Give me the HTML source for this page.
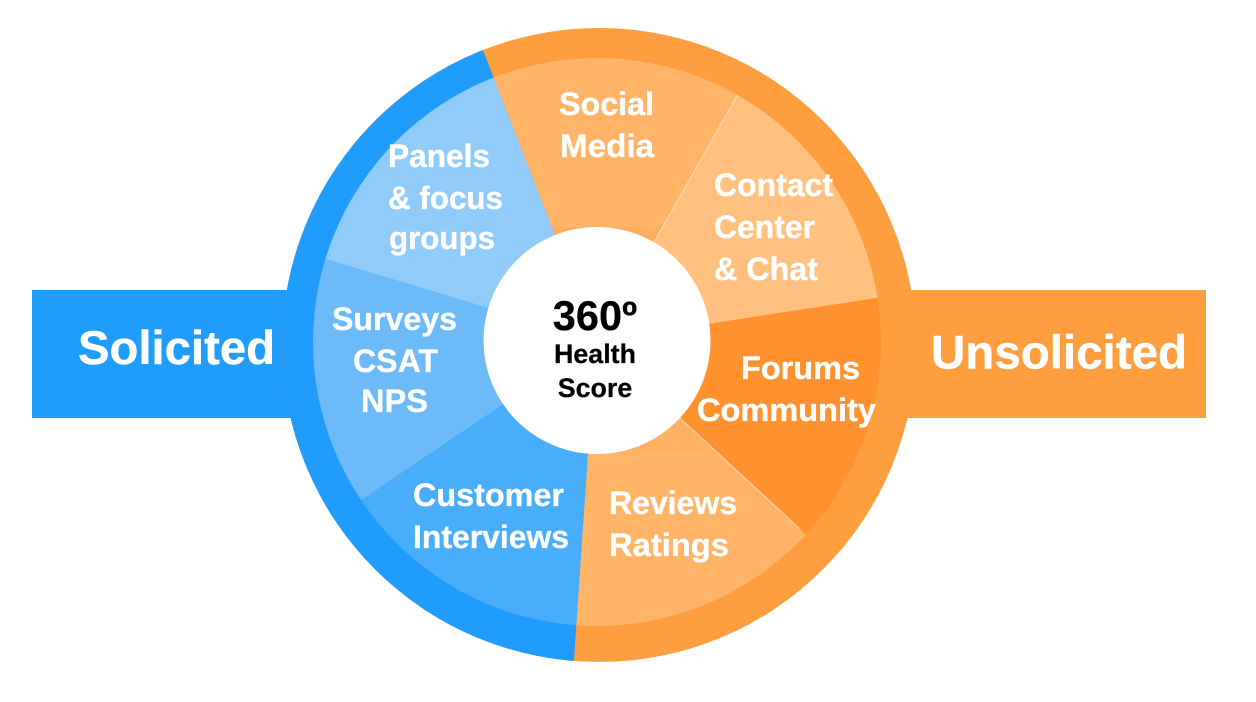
<!DOCTYPE html>
<html>
<head>
<meta charset="utf-8">
<style>
html,body{margin:0;padding:0;background:#fff;}
svg{display:block;}
text{font-family:"Liberation Sans",Arial,sans-serif;font-weight:bold;fill:#fff;}
.m{font-size:32.5px;stroke:#fff;stroke-width:0.35px;}
.b{font-size:47.5px;stroke:#fff;stroke-width:0.4px;}
.c{fill:#000;font-size:26.8px;text-anchor:middle;stroke:#000;stroke-width:0.25px;}
</style>
</head>
<body>
<svg width="1256" height="702" viewBox="0 0 1256 702" xmlns="http://www.w3.org/2000/svg">
<defs>
<clipPath id="outer"><circle cx="599" cy="345" r="317"/></clipPath>
<clipPath id="inner"><circle cx="597" cy="342" r="284"/></clipPath>
</defs>
<rect x="32" y="290" width="270" height="128" fill="#209CFC"/>
<rect x="895" y="290" width="311" height="128" fill="#FF9E3F"/>
<circle cx="599" cy="345" r="317" fill="#FF9E3F"/>
<g clip-path="url(#outer)">
<polygon points="464.5,0 483,50 555,235 588,453 574,659 571,702 0,702 0,0" fill="#209CFC"/>
</g>
<g clip-path="url(#inner)">
<polygon points="555,235 463,0 791,0 654,242 597,340" fill="#FFB468"/>
<polygon points="550,227 661,227 654,242 597,340 550,260" fill="#FFAD5E"/>
<polygon points="654,242 791,0 1000,0 1000,279 708,324 597,340" fill="#FFC080"/>
<polygon points="708,324 1000,279 1000,622 900,622 680,418 597,340" fill="#FF912E"/>
<polygon points="680,418 900,622 900,702 571,702 588,453 597,340" fill="#FFB468"/>
<polygon points="680,418 717,454 588,454 597,340" fill="#FFB163"/>
<polygon points="588,453 571,702 200,702 200,609 502,405 597,340" fill="#48ADFB"/>
<polygon points="502,405 200,609 200,221 488,308 597,340" fill="#6CBAF8"/>
<polygon points="488,308 200,221 200,0 463,0 555,235 597,340" fill="#90CBFA"/>
<line x1="654" y1="242" x2="738" y2="94" stroke="#fff" stroke-opacity="0.6" stroke-width="0.8"/>
<line x1="680" y1="418" x2="800" y2="529" stroke="#fff" stroke-opacity="0.7" stroke-width="0.8"/>
</g>
<circle cx="597" cy="340.5" r="113.5" fill="#fff"/>

<text class="b" x="78" y="364" textLength="197" lengthAdjust="spacingAndGlyphs">Solicited</text>
<text class="b" x="931" y="368.5" textLength="256" lengthAdjust="spacingAndGlyphs">Unsolicited</text>

<text class="m" x="559" y="115.2" textLength="95" lengthAdjust="spacingAndGlyphs">Social</text>
<text class="m" x="560" y="157.2" textLength="94" lengthAdjust="spacingAndGlyphs">Media</text>
<text class="m" x="388" y="167.2" textLength="102" lengthAdjust="spacingAndGlyphs">Panels</text>
<text class="m" x="388" y="209.2" textLength="115" lengthAdjust="spacingAndGlyphs">&amp; focus</text>
<text class="m" x="389" y="249.2" textLength="106" lengthAdjust="spacingAndGlyphs">groups</text>
<text class="m" x="714" y="196.2" textLength="119" lengthAdjust="spacingAndGlyphs">Contact</text>
<text class="m" x="714" y="238.2" textLength="101" lengthAdjust="spacingAndGlyphs">Center</text>
<text class="m" x="714" y="280.2" textLength="104" lengthAdjust="spacingAndGlyphs">&amp; Chat</text>
<text class="m" x="741" y="379.2" textLength="119" lengthAdjust="spacingAndGlyphs">Forums</text>
<text class="m" x="697" y="421.2" textLength="179" lengthAdjust="spacingAndGlyphs">Community</text>
<text class="m" x="609" y="514.2" textLength="128" lengthAdjust="spacingAndGlyphs">Reviews</text>
<text class="m" x="609" y="556.2" textLength="120" lengthAdjust="spacingAndGlyphs">Ratings</text>
<text class="m" x="413" y="506.2" textLength="151" lengthAdjust="spacingAndGlyphs">Customer</text>
<text class="m" x="413" y="548.2" textLength="156" lengthAdjust="spacingAndGlyphs">Interviews</text>
<text class="m" x="332" y="330.2" textLength="125" lengthAdjust="spacingAndGlyphs">Surveys</text>
<text class="m" x="353" y="372.2" textLength="85" lengthAdjust="spacingAndGlyphs">CSAT</text>
<text class="m" x="361" y="412.2" textLength="67" lengthAdjust="spacingAndGlyphs">NPS</text>

<text class="c" x="595" y="330" style="font-size:41.5px">360º</text>
<text class="c" x="595" y="363">Health</text>
<text class="c" x="595" y="397">Score</text>
</svg>
</body>
</html>
